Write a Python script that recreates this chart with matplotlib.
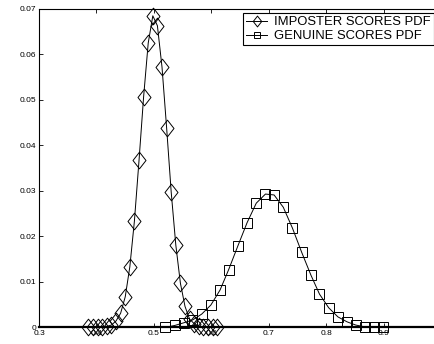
import numpy as np
import matplotlib.pyplot as plt
from matplotlib.path import Path

# imposter scores pdf (diamonds)
imp_x = [0.386, 0.394, 0.402, 0.410, 0.418, 0.426, 0.434, 0.442, 0.450, 0.458,
         0.466, 0.474, 0.482, 0.490, 0.498, 0.506, 0.514, 0.522, 0.530, 0.538,
         0.546, 0.554, 0.562, 0.570, 0.578, 0.586, 0.594, 0.602, 0.610]
imp_y = [0.0, 0.0, 0.0, 0.0, 0.0002, 0.0005, 0.0014, 0.0031, 0.0067, 0.0133,
         0.0234, 0.0367, 0.0507, 0.0625, 0.0685, 0.0663, 0.0572, 0.0439, 0.0297, 0.0181,
         0.0097, 0.0046, 0.0018, 0.0008, 0.0003, 0.0001, 0.0, 0.0, 0.0]

# genuine scores pdf (squares)
gen_x = [0.520, 0.536, 0.552, 0.567, 0.583, 0.599, 0.615, 0.630, 0.646, 0.662,
         0.678, 0.694, 0.709, 0.725, 0.741, 0.757, 0.773, 0.788, 0.804, 0.820,
         0.836, 0.851, 0.867, 0.883, 0.899]
gen_y = [0.0, 0.0004, 0.0010, 0.0016, 0.0029, 0.0049, 0.0082, 0.0127, 0.0179, 0.0230,
         0.0273, 0.0293, 0.0291, 0.0264, 0.0218, 0.0165, 0.0115, 0.0073, 0.0043, 0.0023,
         0.0012, 0.0005, 0.0001, 0.0, 0.0]

xticks = [0.3, 0.4, 0.5, 0.6, 0.7, 0.8, 0.9]
yticks = [0, 0.01, 0.02, 0.03, 0.04, 0.05, 0.06, 0.07]

plt.rcParams['font.family'] = ['Liberation Sans', 'DejaVu Sans']

# tall diamond like the original
diamond = Path([(0, -1), (0.78, 0), (0, 1), (-0.78, 0), (0, -1)],
               [Path.MOVETO, Path.LINETO, Path.LINETO, Path.LINETO, Path.CLOSEPOLY])

fig = plt.figure(figsize=(4.34, 3.44), dpi=100)
ax = fig.add_axes([0.0899, 0.0485, 0.927, 0.9255])

ax.plot(imp_x, imp_y, color='black', lw=0.7, marker=diamond, markersize=12,
        markerfacecolor='none', markeredgecolor='black', markeredgewidth=0.7,
        label='IMPOSTER SCORES PDF', clip_on=False, zorder=3)
ax.plot(gen_x, gen_y, color='black', lw=0.7, marker='s', markersize=7.5,
        markerfacecolor='none', markeredgecolor='black', markeredgewidth=0.7,
        label='GENUINE SCORES PDF', clip_on=False, zorder=3)

ax.set_xlim(0.3, 1.0)
ax.set_ylim(0, 0.07)
ax.set_xticks(xticks)
ax.set_yticks(yticks)
ax.set_xticklabels(['0.3', '0.4', '0.5', '0.6', '0.7', '0.8', '0.9'])
ax.set_yticklabels(['0', '0.01', '0.02', '0.03', '0.04', '0.05', '0.06', '0.07'])
ax.tick_params(direction='in', length=3, width=0.6, labelsize=6, pad=2,
               top=True, right=True)
for s in ax.spines.values():
    s.set_linewidth(0.8)
ax.spines['bottom'].set_linewidth(1.6)

leg = ax.legend(loc='upper left', bbox_to_anchor=(243 / 434, 1 - 13 / 344),
                bbox_transform=fig.transFigure, fontsize=9.4, frameon=True,
                fancybox=False, framealpha=1, edgecolor='black',
                handlelength=1.6, handletextpad=0.5, borderpad=0.25,
                labelspacing=0.12, borderaxespad=0, markerscale=0.65)
leg.get_frame().set_linewidth(0.8)

fig.savefig('out.png', dpi=100)
